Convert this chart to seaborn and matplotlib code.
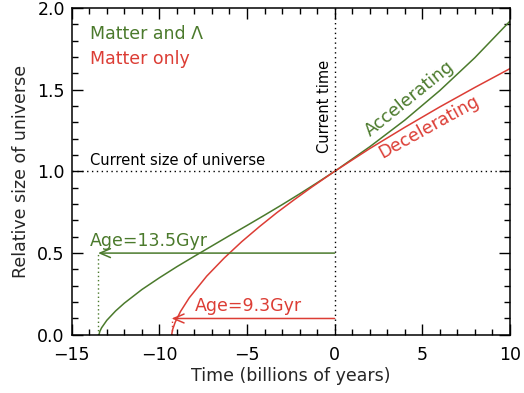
import matplotlib
matplotlib.use("Agg")
import matplotlib.pyplot as plt
import seaborn as sns
import pandas as pd
from matplotlib.ticker import MultipleLocator

# Data
lcdm_time = [-13.45, -13.4, -13.3, -13.0, -12.5, -12.0, -11.0, -10.0, -9.0, -8.0, -7.0,
             -6.0, -5.0, -4.0, -3.0, -2.0, -1.0, 0.0, 2.0, 4.0, 6.0, 8.0, 10.0]
lcdm_size = [0.0, 0.021, 0.043, 0.089, 0.146, 0.194, 0.277, 0.349, 0.417, 0.481, 0.544,
             0.607, 0.669, 0.732, 0.796, 0.862, 0.930, 1.0, 1.150, 1.313, 1.494, 1.695, 1.918]
matter_time = [-9.3, -9.25, -9.1, -8.8, -8.3, -7.3, -6.3, -5.3, -4.3, -3.3, -2.3, -1.3,
               0.0, 2.0, 4.0, 6.0, 8.0, 10.0]
matter_size = [0.0, 0.031, 0.077, 0.142, 0.226, 0.359, 0.470, 0.570, 0.661, 0.747, 0.827, 0.904,
               1.0, 1.139, 1.269, 1.394, 1.513, 1.628]
ages = [13.5, 9.3]
age_levels = [0.5, 0.1]
series_labels = ["Matter and \u039b", "Matter only"]

GREEN = "#4b7a2c"
RED = "#dc3d35"

sns.set_style("ticks")
plt.rcParams["font.family"] = ["DejaVu Sans"]

fig = plt.figure(figsize=(5.24, 3.93), dpi=100)
ax = fig.add_axes([0.137, 0.148, 0.836, 0.832])

df_l = pd.DataFrame({"t": lcdm_time, "a": lcdm_size})
df_m = pd.DataFrame({"t": matter_time, "a": matter_size})
sns.lineplot(data=df_l, x="t", y="a", color=GREEN, lw=1.1, ax=ax, sort=False)
sns.lineplot(data=df_m, x="t", y="a", color=RED, lw=1.1, ax=ax, sort=False)

# reference lines
ax.axhline(1.0, color="black", ls=(0, (1, 2.5)), lw=1.0)
ax.axvline(0.0, color="black", ls=(0, (1, 2.5)), lw=1.0)

# age arrows
for age, lev, col in zip(ages, age_levels, [GREEN, RED]):
    ax.annotate("", xy=(-age, lev), xytext=(0, lev),
                arrowprops=dict(arrowstyle="->,head_length=0.75,head_width=0.32",
                                color=col, lw=1.1, shrinkA=0, shrinkB=0))
    ax.plot([-age, -age], [0, lev], color=col, ls=(0, (1, 2)), lw=1.0)

ax.text(-13.95, 0.52, "Age=13.5Gyr", color=GREEN, fontsize=12.5, va="bottom", ha="left")
ax.text(-7.95, 0.12, "Age=9.3Gyr", color=RED, fontsize=12.5, va="bottom", ha="left")

ax.text(-13.95, 1.02, "Current size of universe", color="black", fontsize=10.5,
        va="bottom", ha="left")
ax.text(-0.55, 1.40, "Current time", color="black", fontsize=10.5, rotation=90,
        va="center", ha="center")
ax.text(4.3, 1.445, "Accelerating", color=GREEN, fontsize=12.5, rotation=39,
        va="center", ha="center", rotation_mode="anchor")
ax.text(5.4, 1.27, "Decelerating", color=RED, fontsize=12.5, rotation=29,
        va="center", ha="center", rotation_mode="anchor")

ax.text(-13.95, 1.84, series_labels[0], color=GREEN, fontsize=12.5, va="center", ha="left")
ax.text(-13.95, 1.687, series_labels[1], color=RED, fontsize=12.5, va="center", ha="left")

ax.set_xlim(-15, 10)
ax.set_ylim(0, 2.0)
ax.xaxis.set_major_locator(MultipleLocator(5))
ax.xaxis.set_minor_locator(MultipleLocator(1))
ax.yaxis.set_major_locator(MultipleLocator(0.5))
ax.yaxis.set_minor_locator(MultipleLocator(0.1))
ax.yaxis.set_major_formatter(plt.FormatStrFormatter("%.1f"))
ax.tick_params(which="both", direction="in", top=True, right=True, width=1.0,
               labelsize=12.5, colors="black")
ax.tick_params(axis="x", which="major", pad=8)
ax.tick_params(axis="y", which="major", pad=5)
ax.tick_params(which="major", length=8)
ax.tick_params(which="minor", length=4)
for s in ax.spines.values():
    s.set_linewidth(1.1)
    s.set_color("black")

ax.set_xlabel("Time (billions of years)", fontsize=12.5, labelpad=2)
ax.set_ylabel("Relative size of universe", fontsize=12.5, labelpad=5)

fig.savefig("out.png", dpi=100)
